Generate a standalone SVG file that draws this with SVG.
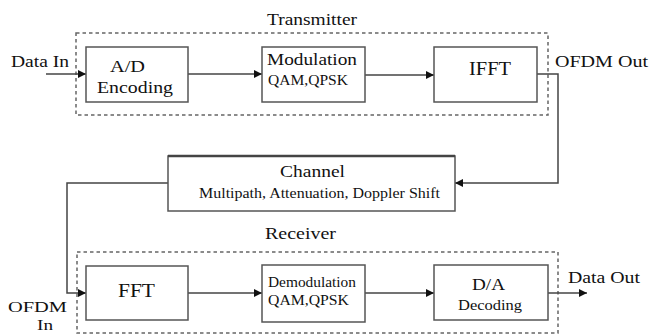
<svg xmlns="http://www.w3.org/2000/svg" width="650" height="334" viewBox="0 0 650 334">
<style>
text{font-family:"Liberation Serif",serif;fill:#111}
.box{fill:#fff;stroke:#555;stroke-width:1.5}
.dash{fill:none;stroke:#666;stroke-width:1.5;stroke-dasharray:3.5,3}
.ln{fill:none;stroke:#444;stroke-width:1.5}
</style>
<defs>
<marker id="ah" viewBox="0 0 10 10" refX="10" refY="5" markerWidth="8" markerHeight="8" markerUnits="userSpaceOnUse" orient="auto">
<path d="M0,0 L10,5 L0,10 z" fill="#111"/>
</marker>
</defs>
<g id="transmitter">
<rect class="dash" x="76" y="33" width="472" height="82"/>
<text x="267" y="25" font-size="17" textLength="90" lengthAdjust="spacingAndGlyphs">Transmitter</text>
</g>
<g id="receiver">
<rect class="dash" x="77" y="252" width="481" height="81"/>
<text x="265" y="239" font-size="17" textLength="71" lengthAdjust="spacingAndGlyphs">Receiver</text>
</g>
<g id="connectors">
<line class="ln" x1="46" y1="74" x2="86" y2="74" marker-end="url(#ah)"/>
<line class="ln" x1="188" y1="74" x2="262" y2="74" marker-end="url(#ah)"/>
<line class="ln" x1="365" y1="75" x2="434" y2="75" marker-end="url(#ah)"/>
<polyline class="ln" points="537,74 558,74 558,183 455,183" marker-end="url(#ah)"/>
<polyline class="ln" points="168,183 67,183 67,293 86,293" marker-end="url(#ah)"/>
<line class="ln" x1="188" y1="293" x2="262" y2="293" marker-end="url(#ah)"/>
<line class="ln" x1="365" y1="293" x2="434" y2="293" marker-end="url(#ah)"/>
<line class="ln" x1="548" y1="293" x2="587" y2="293" marker-end="url(#ah)"/>
</g>
<g id="labels">
<text x="11" y="67" font-size="16" textLength="58" lengthAdjust="spacingAndGlyphs">Data In</text>
<text x="555" y="67" font-size="16" textLength="93" lengthAdjust="spacingAndGlyphs">OFDM Out</text>
<text x="8" y="312" font-size="15" textLength="59" lengthAdjust="spacingAndGlyphs">OFDM</text>
<text x="37" y="330" font-size="15" textLength="16" lengthAdjust="spacingAndGlyphs">In</text>
<text x="568" y="283" font-size="16" textLength="72" lengthAdjust="spacingAndGlyphs">Data Out</text>
</g>
<g id="ad">
<rect class="box" x="86" y="47" width="102" height="55"/>
<text x="110" y="72" font-size="16.5" textLength="35" lengthAdjust="spacingAndGlyphs">A/D</text>
<text x="97" y="93" font-size="16.5" textLength="76" lengthAdjust="spacingAndGlyphs">Encoding</text>
</g>
<g id="modulation">
<rect class="box" x="262" y="47" width="103" height="55"/>
<text x="267" y="65" font-size="17" textLength="90" lengthAdjust="spacingAndGlyphs">Modulation</text>
<text x="268" y="85" font-size="14" textLength="80" lengthAdjust="spacingAndGlyphs">QAM,QPSK</text>
</g>
<g id="ifft">
<rect class="box" x="434" y="47" width="103" height="55"/>
<text x="469" y="75" font-size="18" textLength="42" lengthAdjust="spacingAndGlyphs">IFFT</text>
</g>
<g id="channel">
<rect class="box" x="168" y="156" width="287" height="55"/>
<line x1="168" y1="156" x2="455" y2="156" stroke="#444" stroke-width="2.5"/>
<text x="280" y="177" font-size="17" textLength="65" lengthAdjust="spacingAndGlyphs">Channel</text>
<text x="199" y="198" font-size="14.5" textLength="241" lengthAdjust="spacingAndGlyphs">Multipath, Attenuation, Doppler Shift</text>
</g>
<g id="fft">
<rect class="box" x="86" y="266" width="102" height="54"/>
<text x="118" y="297" font-size="18" textLength="37" lengthAdjust="spacingAndGlyphs">FFT</text>
</g>
<g id="demodulation">
<rect class="box" x="262" y="265" width="103" height="57"/>
<text x="268" y="287" font-size="14.5" textLength="88" lengthAdjust="spacingAndGlyphs">Demodulation</text>
<text x="268" y="305" font-size="15.5" textLength="81" lengthAdjust="spacingAndGlyphs">QAM,QPSK</text>
</g>
<g id="da">
<rect class="box" x="434" y="265" width="114" height="55"/>
<text x="472" y="290" font-size="16.5" textLength="33" lengthAdjust="spacingAndGlyphs">D/A</text>
<text x="458" y="310" font-size="14.5" textLength="64" lengthAdjust="spacingAndGlyphs">Decoding</text>
</g>
</svg>
